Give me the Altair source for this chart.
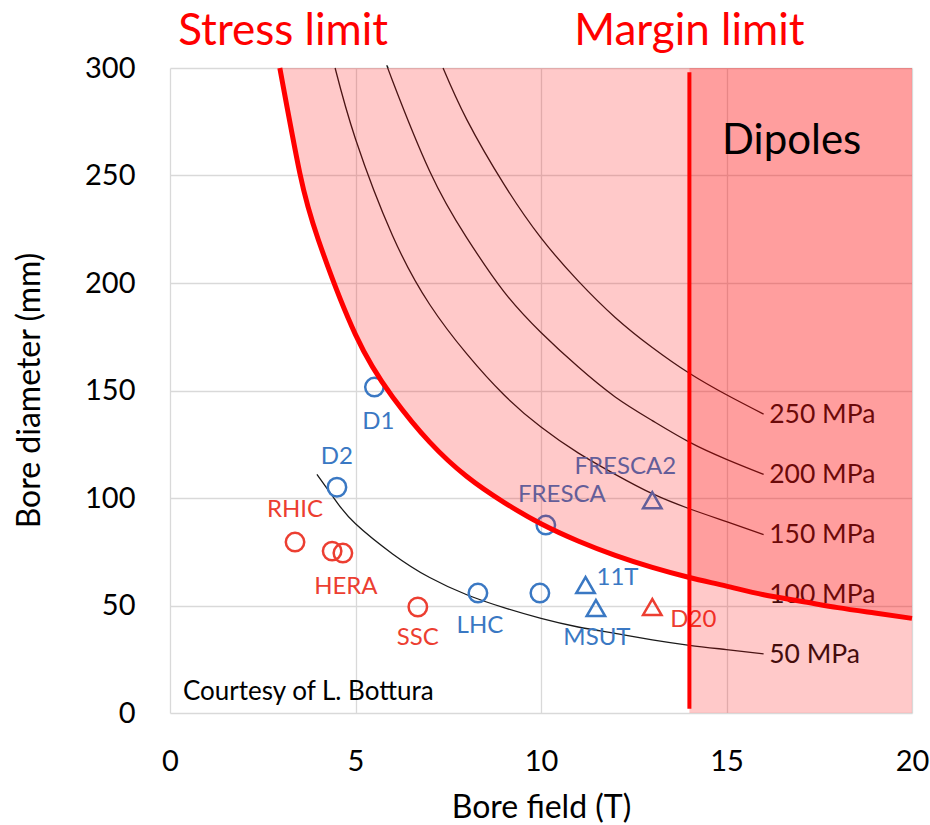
import altair as alt
import pandas as pd

# ---------------- data ----------------
# iso-stress curves: bore field (T) vs bore diameter (mm)
c50_x = [3.96, 4.5, 5, 6, 7, 8, 9, 10, 11, 12, 13, 14, 15, 16]
c50_y = [111, 98, 88, 74, 63, 55, 49, 44, 40, 37, 34, 31.5, 29.5, 27.5]
c100_x = [2.96, 3.5, 4, 5, 6, 7, 8, 9, 10, 11, 12, 13, 14, 15, 16, 17, 18, 19, 20]
c100_y = [300, 251, 220, 176, 147, 126, 110, 98, 88, 80, 73.3, 67.7, 63, 59, 55, 52, 49, 46.5, 44]
c150_x = [4.45, 5, 6, 7, 8, 9, 10, 11, 12, 13, 14, 15, 16]
c150_y = [300, 267, 222, 190, 167, 148, 133, 121, 111, 102, 95, 89, 83]
c200_x = [5.88, 6, 7, 8, 9, 10, 11, 12, 13, 14, 15, 16]
c200_y = [300, 294, 252, 221, 196, 177, 161, 147, 136, 126, 118, 111]
c250_x = [7.36, 8, 9, 10, 11, 12, 13, 14, 15, 16]
c250_y = [300, 276, 246, 221, 201, 184, 170, 158, 148, 139]

curve_labels = ["250 MPa", "200 MPa", "150 MPa", "100 MPa", "50 MPa"]
curve_label_x = [16.15, 16.15, 16.15, 16.15, 16.15]
curve_label_y = [138.6, 110.7, 82.8, 54.9, 26.9]

# magnets
magnet_field = [5.51, 4.5, 3.37, 4.37, 4.66, 6.68, 8.3, 9.97, 10.13, 13.0, 11.2, 11.48, 13.0]
magnet_bore = [151.6, 105, 79.5, 75.3, 74.4, 49.3, 55.8, 55.8, 87.4, 99, 59.5, 48.8, 49.3]
magnet_label = ["D1", "D2", "RHIC", "", "HERA", "SSC", "LHC", "", "FRESCA", "FRESCA2", "11T", "MSUT", "D20"]
magnet_group = ["blue", "blue", "red", "red", "red", "red", "blue", "blue", "blue", "blue", "blue", "blue", "red"]
magnet_kind = ["circle"] * 9 + ["triangle"] * 4
label_dx = [4, 0, 0, 0, 3, 0, 2, 0, 16, -27, 32, 1, 41]
label_dy = [35, -30, -32, 0, 34, 31, 33, 0, -30, -33, -7, 30, 13]

field_min, field_max = 0, 20
bore_min, bore_max = 0, 300
margin_field = 14

FONT = "Lato"
BLUE = "#3A78C3"
RED_LBL = "#EC3E31"
RED = "#FF0000"
GRID = "#D9D9D9"
INTERP = "natural"

# ---------------- scales & axes ----------------
x_scale = alt.Scale(domain=[field_min, field_max], nice=False, zero=False)
y_scale = alt.Scale(domain=[bore_min, bore_max], nice=False, zero=False)

x_axis = alt.Axis(values=[0, 5, 10, 15, 20], title="Bore field (T)", grid=True,
                  gridColor=GRID, gridWidth=1.3, domain=False, ticks=False,
                  labelFontSize=29, labelFont=FONT, labelColor="black", labelPadding=34,
                  labelFlush=False,
                  titleFont=FONT, titleFontSize=32, titleFontWeight="normal",
                  titleColor="black", titleX=371, titleY=94, titleBaseline="middle",
                  titleAlign="center")
y_axis = alt.Axis(values=[0, 50, 100, 150, 200, 250, 300], title="Bore diameter (mm)",
                  grid=True, gridColor=GRID, gridWidth=1.3, domain=False, ticks=False,
                  labelFontSize=29, labelFont=FONT, labelColor="black", labelPadding=35,
                  labelFlush=False,
                  titleFont=FONT, titleFontSize=32, titleFontWeight="normal",
                  titleColor="black", titleX=-141, titleY=322, titleAngle=-90,
                  titleBaseline="middle", titleAlign="center")


def X(field="B"):
    return alt.X(f"{field}:Q", scale=x_scale, axis=x_axis)


def Y(field="D"):
    return alt.Y(f"{field}:Q", scale=y_scale, axis=y_axis)


def cdf(xs, ys):
    return pd.DataFrame({"B": xs, "D": ys})


layers = []

# thin iso-stress curves
for xs, ys in [(c50_x, c50_y), (c150_x, c150_y), (c200_x, c200_y), (c250_x, c250_y)]:
    layers.append(
        alt.Chart(cdf(xs, ys)).mark_line(color="#1a1a1a", strokeWidth=1.3, interpolate=INTERP)
        .encode(x=X(), y=Y(), order="B:Q")
    )

# magnets
mag = pd.DataFrame({"B": magnet_field, "D": magnet_bore, "group": magnet_group,
                    "kind": magnet_kind, "label": magnet_label})
layers.append(
    alt.Chart(mag).mark_point(filled=False, strokeWidth=2.5, size=340, opacity=1)
    .encode(x=X(), y=Y(),
            color=alt.Color("group:N", scale=alt.Scale(domain=["blue", "red"], range=[BLUE, RED_LBL]), legend=None),
            shape=alt.Shape("kind:N", scale=alt.Scale(domain=["circle", "triangle"], range=["circle", "triangle-up"]), legend=None))
)

# magnet labels
for i, lab in enumerate(magnet_label):
    if not lab:
        continue
    d = pd.DataFrame({"B": [magnet_field[i]], "D": [magnet_bore[i]], "t": [lab]})
    layers.append(
        alt.Chart(d).mark_text(font=FONT, fontSize=24, dx=label_dx[i], dy=label_dy[i],
                               align="center", baseline="middle",
                               color=BLUE if magnet_group[i] == "blue" else RED_LBL)
        .encode(x=X(), y=Y(), text="t:N")
    )

# curve labels
cl = pd.DataFrame({"B": curve_label_x, "D": curve_label_y, "t": curve_labels})
layers.append(
    alt.Chart(cl).mark_text(font=FONT, fontSize=26.5, align="left", baseline="middle", color="#111111")
    .encode(x=X(), y=Y(), text="t:N")
)

# courtesy note
cn = pd.DataFrame({"B": [0.35], "D": [6.0], "t": ["Courtesy of L. Bottura"]})
layers.append(
    alt.Chart(cn).mark_text(font=FONT, fontSize=26, align="left", baseline="alphabetic", color="black")
    .encode(x=X(), y=Y(), text="t:N")
)

# shaded regions (translucent, drawn over labels)
stress = cdf([x for x in c100_x if x <= margin_field], [y for x, y in zip(c100_x, c100_y) if x <= margin_field])
stress["top"] = bore_max
layers.append(
    alt.Chart(stress).mark_area(color=RED, opacity=0.21, interpolate=INTERP)
    .encode(x=X(), y=Y(), y2=alt.Y2("top:Q"))
)
mrect = pd.DataFrame({"B": [margin_field], "B2": [field_max], "D": [bore_min], "D2": [bore_max]})
layers.append(
    alt.Chart(mrect).mark_rect(color=RED, opacity=0.21)
    .encode(x=X(), x2=alt.X2("B2:Q"), y=Y(), y2=alt.Y2("D2:Q"))
)
over = cdf([x for x in c100_x if x >= margin_field], [y for x, y in zip(c100_x, c100_y) if x >= margin_field])
over["top"] = bore_max
layers.append(
    alt.Chart(over).mark_area(color=RED, opacity=0.21, interpolate=INTERP)
    .encode(x=X(), y=Y(), y2=alt.Y2("top:Q"))
)

# 100 MPa stress-limit curve
layers.append(
    alt.Chart(cdf(c100_x, c100_y)).mark_line(color=RED, strokeWidth=5, interpolate=INTERP)
    .encode(x=X(), y=Y(), order="B:Q")
)

# margin limit line
mline = pd.DataFrame({"B": [margin_field], "D": [2], "D2": [298]})
layers.append(
    alt.Chart(mline).mark_rule(color=RED, strokeWidth=4)
    .encode(x=X(), y=Y(), y2=alt.Y2("D2:Q"))
)

# annotations
ann = [("Stress limit", 3.05, 310.7, 44, RED, "center"),
       ("Margin limit", 14.0, 310.7, 44, RED, "center"),
       ("Dipoles", 14.88, 260.0, 42, "black", "left")]
for t, bx, by, fs, col, al in ann:
    d = pd.DataFrame({"B": [bx], "D": [by], "t": [t]})
    layers.append(
        alt.Chart(d).mark_text(font=FONT, fontSize=fs, color=col, align=al, baseline="alphabetic")
        .encode(x=X(), y=Y(), text="t:N")
    )

chart = alt.layer(*layers).properties(
    width=742, height=645,
    autosize=alt.AutoSizeParams(type="none"),
    padding={"left": 170, "top": 68, "right": 18, "bottom": 112},
    background="white",
).configure_view(stroke=None)

chart.save("out.html", embed_options={"renderer": "svg", "actions": False})
